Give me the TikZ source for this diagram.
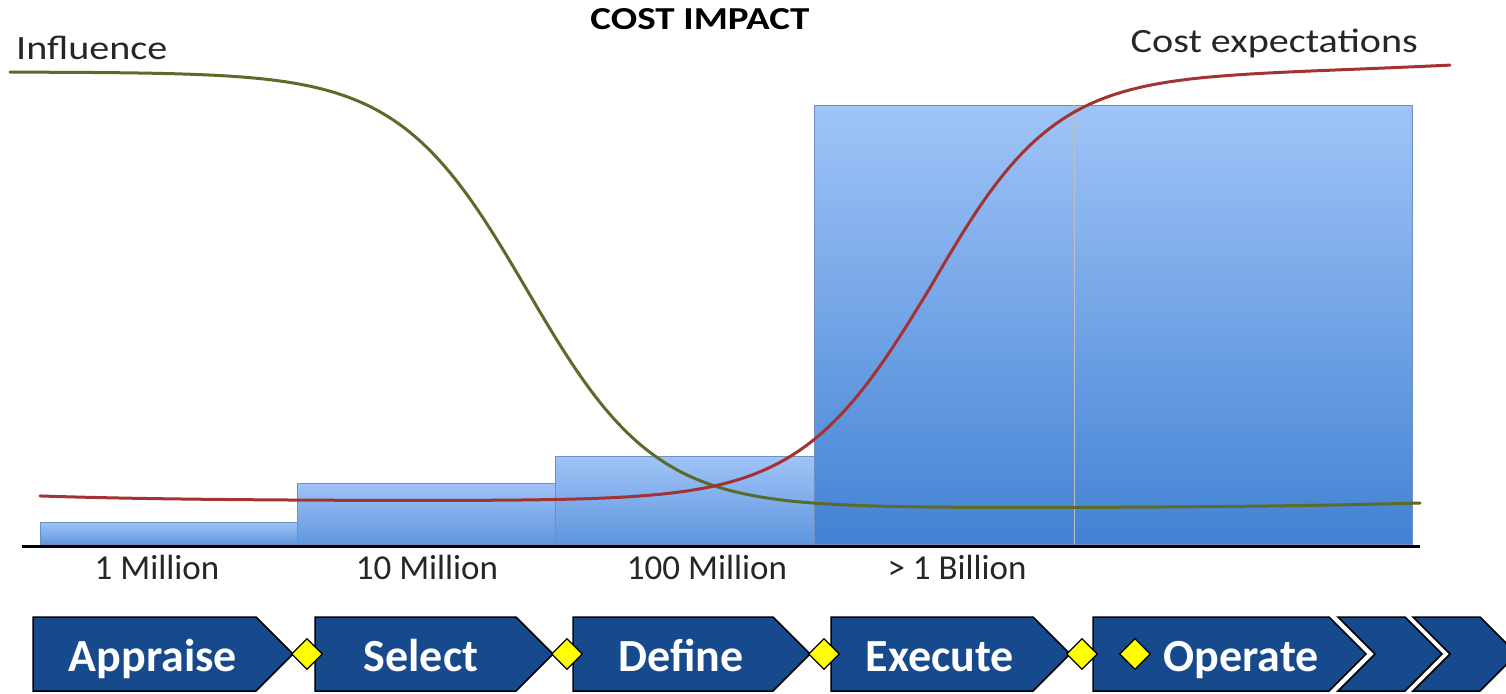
\documentclass[tikz,border=0pt]{standalone}
\usepackage{fontspec}
\setmainfont{Carlito}
\usetikzlibrary{shapes.geometric}
\definecolor{chevblue}{HTML}{174A8C}
\definecolor{barline}{HTML}{6F8FC0}
\definecolor{barlight}{HTML}{A0C4F8}
\definecolor{barmid}{HTML}{5F96DE}
\definecolor{bardark}{HTML}{4282D3}
\definecolor{inflgreen}{HTML}{5A6B2A}
\definecolor{costred}{HTML}{A33333}
\definecolor{gateyellow}{HTML}{FFFF00}
\begin{document}
\begin{tikzpicture}[x=1pt,y=-1pt,
  barbox/.style={draw=barline, line width=0.8pt},
  chev/.style={fill=chevblue, draw=black, line width=1.5pt, line join=miter},
  gate/.style={diamond, fill=gateyellow, draw=black, line width=1.2pt, inner sep=0pt, minimum width=31pt, minimum height=31pt},
  chevtext/.style={text=white, font=\fontsize{46}{50}\selectfont\bfseries, anchor=base},
  axislabel/.style={font=\fontsize{35}{40}\selectfont, text=black!85, anchor=base},
  toplabel/.style={font=\fontsize{34}{40}\selectfont, text=black!85, xscale=1.18},
  curve/.style={line width=3pt, line cap=round, line join=round}
]
\useasboundingbox (0,0) rectangle (1506,693);

% bars
\shade[barbox, top color=barlight, bottom color=barmid] (40,522) rectangle (297,544);
\shade[barbox, top color=barlight, bottom color=barmid] (297,483) rectangle (555,544);
\shade[barbox, top color=barlight, bottom color=barmid] (555,456) rectangle (814,544);
\shade[barbox, top color=barlight, middle color=barmid, bottom color=bardark] (814,105) rectangle (1074,544);
\shade[barbox, top color=barlight, middle color=barmid, bottom color=bardark] (1074,105) rectangle (1412,544);
\draw[black!25, line width=1pt] (1074,105) -- (1074,544);

% axis
\coordinate (axL) at (22,546);
\coordinate (axR) at (1420,546);
\draw[black, line width=3pt] (axL) -- (axR);

% curves
\draw[curve, inflgreen] plot[domain=10:1420, samples=240, smooth]
  (\x, {72 + 436/(1+exp(min(9,(527-\x)/64))) - 5*(\x/1420)^8});
\draw[curve, costred] plot[domain=40:1450, samples=240, smooth]
  (\x, {501 - 5*exp(-(\x-40)/150) - 425/(1+exp(min(9,(930-\x)/((\x<930) ? 65 : 62)))) - 11*((\x-40)/1410)^6});

% texts
\node[font=\fontsize{32}{36}\selectfont\bfseries, xscale=1.22] (title) at (700,19) {COST IMPACT};
\node[toplabel, anchor=west] (infl) at (12,48) {Influence};
\node[toplabel, anchor=east] (cexp) at (1422,43) {Cost expectations};
\node[axislabel] (l1) at (157,579) {1 Million};
\node[axislabel] (l2) at (427,579) {10 Million};
\node[axislabel] (l3) at (707,579) {100 Million};
\node[axislabel] (l4) at (957,579) {> 1 Billion};

% chevrons
\draw[chev] (33,617) -- (256,617) -- (293,654) -- (256,691) -- (33,691) -- cycle;
\draw[chev] (315,617) -- (516,617) -- (553,654) -- (516,691) -- (315,691) -- cycle;
\draw[chev] (573,617) -- (773,617) -- (810,654) -- (773,691) -- (573,691) -- cycle;
\draw[chev] (831,617) -- (1033,617) -- (1070,654) -- (1033,691) -- (831,691) -- cycle;
\draw[chev] (1093,617) -- (1329,617) -- (1366,654) -- (1329,691) -- (1093,691) -- cycle;
\draw[chev] (1338,617) -- (1405,617) -- (1442,654) -- (1405,691) -- (1338,691) -- (1375,654) -- cycle;
\draw[chev] (1413,617) -- (1480,617) -- (1517,654) -- (1480,691) -- (1413,691) -- (1450,654) -- cycle;

\node[chevtext] (appraise) at (153,671) {Appraise};
\node[chevtext] (select) at (421,671) {Select};
\node[chevtext] (define) at (681,671) {Define};
\node[chevtext] (execute) at (940,671) {Execute};
\node[chevtext] (operate) at (1241,671) {Operate};

\node[gate] (g1) at (307,654) {};
\node[gate] (g2) at (567,654) {};
\node[gate] (g3) at (824,654) {};
\node[gate] (g4) at (1082,654) {};
\node[gate] (g5) at (1135,654) {};
\end{tikzpicture}
\end{document}
